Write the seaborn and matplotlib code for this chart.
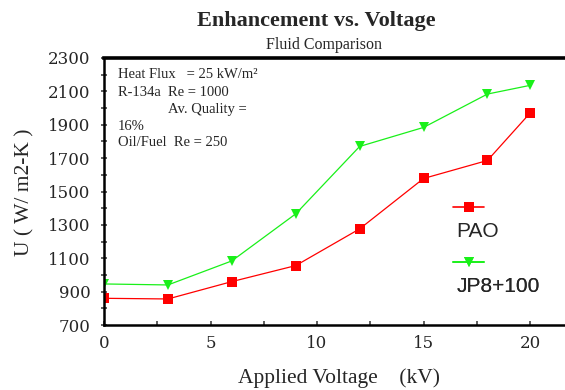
import matplotlib
matplotlib.use('Agg')
import matplotlib.pyplot as plt
import seaborn as sns
import pandas as pd
from matplotlib.ticker import MultipleLocator
from matplotlib.lines import Line2D

# data
voltage = [0, 3, 6, 9, 12, 15, 18, 20]
pao = [860, 856, 960, 1056, 1276, 1578, 1686, 1970]
jp8 = [946, 940, 1084, 1366, 1770, 1884, 2084, 2136]
fluids = ['PAO', 'JP8+100']
colors = {'PAO': '#ff0000', 'JP8+100': '#19f019'}
markers = {'PAO': 's', 'JP8+100': 'v'}

note_lines = ['Heat Flux   = 25 kW/m\u00b2', 'R-134a  Re = 1000',
              'Av. Quality =', '16%', 'Oil/Fuel  Re = 250']

df = pd.DataFrame({
    'voltage': voltage * 2,
    'U': pao + jp8,
    'fluid': [fluids[0]] * len(voltage) + [fluids[1]] * len(voltage),
})

sns.set_style('ticks')
plt.rcParams['font.family'] = ['Liberation Serif', 'DejaVu Serif']

fig = plt.figure(figsize=(5.65, 3.9), dpi=100)
ax = fig.add_axes([104 / 565, 65 / 390, 461 / 565, 267 / 390])

sns.lineplot(data=df, x='voltage', y='U', hue='fluid', style='fluid',
             palette=colors, markers=markers, dashes=False, linewidth=0.9,
             markersize=7, markeredgewidth=0, ax=ax, legend=False)

ax.set_xlim(0, 21.64)
ax.set_ylim(700, 2300)
ax.xaxis.set_major_locator(MultipleLocator(5))
ax.xaxis.set_minor_locator(MultipleLocator(2.5))
ax.yaxis.set_major_locator(MultipleLocator(200, offset=100))
ax.yaxis.set_minor_locator(MultipleLocator(100))
ax.tick_params(axis='both', which='both', direction='in', length=3, width=1.2,
               color='#444444', labelsize=12, pad=7)
ax.tick_params(axis='y', which='both', direction='inout', length=5)
for lab in ax.get_xticklabels() + ax.get_yticklabels():
    lab.set_family('DejaVu Serif')

for side in ['left', 'bottom']:
    ax.spines[side].set_linewidth(1.8)
    ax.spines[side].set_color('black')
ax.spines['top'].set_linewidth(2.6)
ax.spines['top'].set_color('black')
ax.spines['right'].set_visible(False)

ax.set_xlabel('Applied Voltage    (kV)', fontsize=15.5)
ax.xaxis.set_label_coords(0.51, -0.2)
ax.xaxis.label.set_va('center')
ax.set_ylabel('U ( W/ m2-K )', fontsize=15.5)
ax.yaxis.set_label_coords(-0.171, 0.496)
ax.yaxis.label.set_va('center')

fig.text(316 / 565, 1 - 21 / 390, 'Enhancement vs. Voltage', ha='center', va='center',
         fontsize=16, fontweight='bold')
fig.text(324 / 565, 1 - 45 / 390, 'Fluid Comparison', ha='center', va='center', fontsize=11.5)

note_x = [118, 118, 168, 118, 118]
note_y = [75, 92, 110, 126, 142]
for txt, nx, ny in zip(note_lines, note_x, note_y):
    fig.text(nx / 565, 1 - ny / 390, txt, ha='left', va='center', fontsize=10.5)

# legend: key line above its label, one small legend per fluid
blank = Line2D([], [], linestyle='none')
leg_top = [199, 254]
for f, top in zip(fluids, leg_top):
    key = Line2D([], [], color=colors[f], marker=markers[f], markersize=7,
                 markeredgewidth=0, linewidth=1.2)
    leg = ax.legend([key, blank], ['', f], loc='upper left',
                    bbox_to_anchor=((453 - 104) / 461, (325 - top) / 267),
                    frameon=False, handlelength=1.5, handletextpad=-1.35, labelspacing=0.2,
                    borderaxespad=0, borderpad=0, numpoints=1,
                    prop={'family': ['Liberation Sans', 'DejaVu Sans'], 'size': 15})
    ax.add_artist(leg)

fig.savefig('out.png', dpi=100)
